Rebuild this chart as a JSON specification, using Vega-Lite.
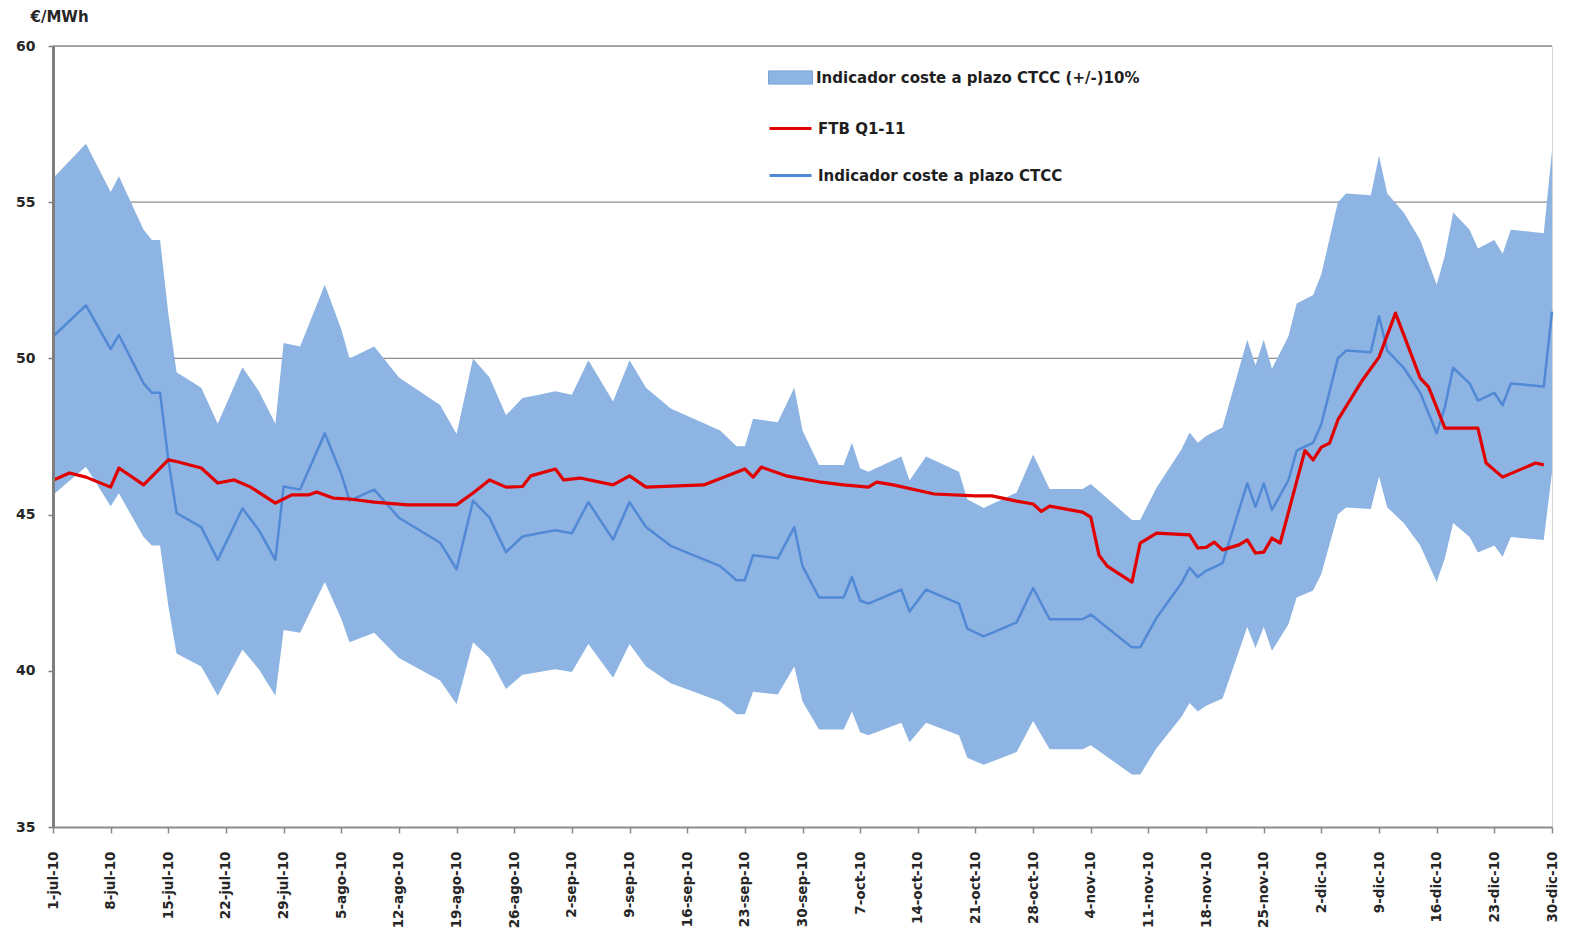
{
  "$schema": "https://vega.github.io/schema/vega-lite/v6.json",
  "width": 1499,
  "height": 781,
  "autosize": "none",
  "padding": {"left": 53, "top": 46, "right": 22, "bottom": 103},
  "background": "white",
  "config": {
    "view": {"stroke": "#d4d4d4", "strokeWidth": 1},
    "font": "DejaVu Sans",
    "axis": {"labelFont": "DejaVu Sans", "titleFont": "DejaVu Sans", "labelColor": "#262626", "titleColor": "#262626"},
    "legend": {"labelFont": "DejaVu Sans"}
  },
  "datasets": {
    "gridlines": [{"v": 50}, {"v": 55}, {"v": 60}],
    "ind": [
      {"fecha": "2010-07-01", "ind": 50.7, "lo": 45.63, "hi": 55.77},
      {"fecha": "2010-07-05", "ind": 51.7, "lo": 46.53, "hi": 56.87},
      {"fecha": "2010-07-08", "ind": 50.3, "lo": 45.27, "hi": 55.33},
      {"fecha": "2010-07-09", "ind": 50.75, "lo": 45.68, "hi": 55.83},
      {"fecha": "2010-07-12", "ind": 49.2, "lo": 44.28, "hi": 54.12},
      {"fecha": "2010-07-13", "ind": 48.9, "lo": 44.01, "hi": 53.79},
      {"fecha": "2010-07-14", "ind": 48.9, "lo": 44.01, "hi": 53.79},
      {"fecha": "2010-07-15", "ind": 46.75, "lo": 42.08, "hi": 51.43},
      {"fecha": "2010-07-16", "ind": 45.05, "lo": 40.55, "hi": 49.56},
      {"fecha": "2010-07-19", "ind": 44.6, "lo": 40.14, "hi": 49.06},
      {"fecha": "2010-07-21", "ind": 43.55, "lo": 39.2, "hi": 47.91},
      {"fecha": "2010-07-24", "ind": 45.2, "lo": 40.68, "hi": 49.72},
      {"fecha": "2010-07-26", "ind": 44.5, "lo": 40.05, "hi": 48.95},
      {"fecha": "2010-07-28", "ind": 43.55, "lo": 39.2, "hi": 47.91},
      {"fecha": "2010-07-29", "ind": 45.9, "lo": 41.31, "hi": 50.49},
      {"fecha": "2010-07-31", "ind": 45.8, "lo": 41.22, "hi": 50.38},
      {"fecha": "2010-08-03", "ind": 47.6, "lo": 42.84, "hi": 52.36},
      {"fecha": "2010-08-05", "ind": 46.3, "lo": 41.67, "hi": 50.93},
      {"fecha": "2010-08-06", "ind": 45.45, "lo": 40.91, "hi": 50.0},
      {"fecha": "2010-08-09", "ind": 45.8, "lo": 41.22, "hi": 50.38},
      {"fecha": "2010-08-12", "ind": 44.9, "lo": 40.41, "hi": 49.39},
      {"fecha": "2010-08-17", "ind": 44.1, "lo": 39.69, "hi": 48.51},
      {"fecha": "2010-08-19", "ind": 43.25, "lo": 38.93, "hi": 47.58},
      {"fecha": "2010-08-21", "ind": 45.45, "lo": 40.91, "hi": 50.0},
      {"fecha": "2010-08-23", "ind": 44.9, "lo": 40.41, "hi": 49.39},
      {"fecha": "2010-08-25", "ind": 43.8, "lo": 39.42, "hi": 48.18},
      {"fecha": "2010-08-27", "ind": 44.3, "lo": 39.87, "hi": 48.73},
      {"fecha": "2010-08-29", "ind": 44.4, "lo": 39.96, "hi": 48.84},
      {"fecha": "2010-08-31", "ind": 44.5, "lo": 40.05, "hi": 48.95},
      {"fecha": "2010-09-02", "ind": 44.4, "lo": 39.96, "hi": 48.84},
      {"fecha": "2010-09-04", "ind": 45.4, "lo": 40.86, "hi": 49.94},
      {"fecha": "2010-09-07", "ind": 44.2, "lo": 39.78, "hi": 48.62},
      {"fecha": "2010-09-09", "ind": 45.4, "lo": 40.86, "hi": 49.94},
      {"fecha": "2010-09-11", "ind": 44.6, "lo": 40.14, "hi": 49.06},
      {"fecha": "2010-09-14", "ind": 44.0, "lo": 39.6, "hi": 48.4},
      {"fecha": "2010-09-20", "ind": 43.35, "lo": 39.02, "hi": 47.69},
      {"fecha": "2010-09-22", "ind": 42.9, "lo": 38.61, "hi": 47.19},
      {"fecha": "2010-09-23", "ind": 42.9, "lo": 38.61, "hi": 47.19},
      {"fecha": "2010-09-24", "ind": 43.7, "lo": 39.33, "hi": 48.07},
      {"fecha": "2010-09-27", "ind": 43.6, "lo": 39.24, "hi": 47.96},
      {"fecha": "2010-09-29", "ind": 44.6, "lo": 40.14, "hi": 49.06},
      {"fecha": "2010-09-30", "ind": 43.35, "lo": 39.02, "hi": 47.69},
      {"fecha": "2010-10-02", "ind": 42.35, "lo": 38.12, "hi": 46.59},
      {"fecha": "2010-10-05", "ind": 42.35, "lo": 38.12, "hi": 46.59},
      {"fecha": "2010-10-06", "ind": 43.0, "lo": 38.7, "hi": 47.3},
      {"fecha": "2010-10-07", "ind": 42.25, "lo": 38.03, "hi": 46.48},
      {"fecha": "2010-10-08", "ind": 42.15, "lo": 37.94, "hi": 46.37},
      {"fecha": "2010-10-12", "ind": 42.6, "lo": 38.34, "hi": 46.86},
      {"fecha": "2010-10-13", "ind": 41.9, "lo": 37.71, "hi": 46.09},
      {"fecha": "2010-10-15", "ind": 42.6, "lo": 38.34, "hi": 46.86},
      {"fecha": "2010-10-19", "ind": 42.15, "lo": 37.94, "hi": 46.37},
      {"fecha": "2010-10-20", "ind": 41.35, "lo": 37.22, "hi": 45.49},
      {"fecha": "2010-10-22", "ind": 41.1, "lo": 36.99, "hi": 45.21},
      {"fecha": "2010-10-26", "ind": 41.55, "lo": 37.4, "hi": 45.71},
      {"fecha": "2010-10-28", "ind": 42.65, "lo": 38.39, "hi": 46.92},
      {"fecha": "2010-10-30", "ind": 41.65, "lo": 37.49, "hi": 45.82},
      {"fecha": "2010-11-03", "ind": 41.65, "lo": 37.49, "hi": 45.82},
      {"fecha": "2010-11-04", "ind": 41.8, "lo": 37.62, "hi": 45.98},
      {"fecha": "2010-11-09", "ind": 40.75, "lo": 36.68, "hi": 44.83},
      {"fecha": "2010-11-10", "ind": 40.75, "lo": 36.68, "hi": 44.83},
      {"fecha": "2010-11-12", "ind": 41.7, "lo": 37.53, "hi": 45.87},
      {"fecha": "2010-11-15", "ind": 42.8, "lo": 38.52, "hi": 47.08},
      {"fecha": "2010-11-16", "ind": 43.3, "lo": 38.97, "hi": 47.63},
      {"fecha": "2010-11-17", "ind": 43.0, "lo": 38.7, "hi": 47.3},
      {"fecha": "2010-11-18", "ind": 43.2, "lo": 38.88, "hi": 47.52},
      {"fecha": "2010-11-20", "ind": 43.45, "lo": 39.11, "hi": 47.8},
      {"fecha": "2010-11-21", "ind": 44.3, "lo": 39.87, "hi": 48.73},
      {"fecha": "2010-11-22", "ind": 45.15, "lo": 40.64, "hi": 49.67},
      {"fecha": "2010-11-23", "ind": 46.0, "lo": 41.4, "hi": 50.6},
      {"fecha": "2010-11-24", "ind": 45.25, "lo": 40.73, "hi": 49.78},
      {"fecha": "2010-11-25", "ind": 46.0, "lo": 41.4, "hi": 50.6},
      {"fecha": "2010-11-26", "ind": 45.15, "lo": 40.64, "hi": 49.67},
      {"fecha": "2010-11-28", "ind": 46.1, "lo": 41.49, "hi": 50.71},
      {"fecha": "2010-11-29", "ind": 47.05, "lo": 42.35, "hi": 51.76},
      {"fecha": "2010-12-01", "ind": 47.3, "lo": 42.57, "hi": 52.03},
      {"fecha": "2010-12-02", "ind": 47.9, "lo": 43.11, "hi": 52.69},
      {"fecha": "2010-12-04", "ind": 50.0, "lo": 45.0, "hi": 55.0},
      {"fecha": "2010-12-05", "ind": 50.25, "lo": 45.23, "hi": 55.28},
      {"fecha": "2010-12-08", "ind": 50.2, "lo": 45.18, "hi": 55.22},
      {"fecha": "2010-12-09", "ind": 51.35, "lo": 46.22, "hi": 56.49},
      {"fecha": "2010-12-10", "ind": 50.25, "lo": 45.23, "hi": 55.28},
      {"fecha": "2010-12-12", "ind": 49.7, "lo": 44.73, "hi": 54.67},
      {"fecha": "2010-12-14", "ind": 48.9, "lo": 44.01, "hi": 53.79},
      {"fecha": "2010-12-16", "ind": 47.6, "lo": 42.84, "hi": 52.36},
      {"fecha": "2010-12-17", "ind": 48.45, "lo": 43.61, "hi": 53.3},
      {"fecha": "2010-12-18", "ind": 49.7, "lo": 44.73, "hi": 54.67},
      {"fecha": "2010-12-20", "ind": 49.2, "lo": 44.28, "hi": 54.12},
      {"fecha": "2010-12-21", "ind": 48.65, "lo": 43.79, "hi": 53.52},
      {"fecha": "2010-12-23", "ind": 48.9, "lo": 44.01, "hi": 53.79},
      {"fecha": "2010-12-24", "ind": 48.5, "lo": 43.65, "hi": 53.35},
      {"fecha": "2010-12-25", "ind": 49.2, "lo": 44.28, "hi": 54.12},
      {"fecha": "2010-12-29", "ind": 49.1, "lo": 44.19, "hi": 54.01},
      {"fecha": "2010-12-30", "ind": 51.5, "lo": 46.35, "hi": 56.65}
    ],
    "ftb": [
      {"fecha": "2010-07-01", "ftb": 46.1},
      {"fecha": "2010-07-03", "ftb": 46.33},
      {"fecha": "2010-07-05", "ftb": 46.2},
      {"fecha": "2010-07-08", "ftb": 45.88},
      {"fecha": "2010-07-09", "ftb": 46.49},
      {"fecha": "2010-07-12", "ftb": 45.95},
      {"fecha": "2010-07-15", "ftb": 46.75},
      {"fecha": "2010-07-16", "ftb": 46.7},
      {"fecha": "2010-07-19", "ftb": 46.49},
      {"fecha": "2010-07-21", "ftb": 46.01},
      {"fecha": "2010-07-23", "ftb": 46.11},
      {"fecha": "2010-07-25", "ftb": 45.88},
      {"fecha": "2010-07-28", "ftb": 45.37},
      {"fecha": "2010-07-30", "ftb": 45.63},
      {"fecha": "2010-08-01", "ftb": 45.63},
      {"fecha": "2010-08-02", "ftb": 45.72},
      {"fecha": "2010-08-04", "ftb": 45.53},
      {"fecha": "2010-08-06", "ftb": 45.5},
      {"fecha": "2010-08-09", "ftb": 45.4},
      {"fecha": "2010-08-13", "ftb": 45.31},
      {"fecha": "2010-08-19", "ftb": 45.31},
      {"fecha": "2010-08-21", "ftb": 45.69},
      {"fecha": "2010-08-23", "ftb": 46.11},
      {"fecha": "2010-08-25", "ftb": 45.88},
      {"fecha": "2010-08-27", "ftb": 45.9},
      {"fecha": "2010-08-28", "ftb": 46.24},
      {"fecha": "2010-08-31", "ftb": 46.46},
      {"fecha": "2010-09-01", "ftb": 46.11},
      {"fecha": "2010-09-03", "ftb": 46.17},
      {"fecha": "2010-09-07", "ftb": 45.95},
      {"fecha": "2010-09-09", "ftb": 46.24},
      {"fecha": "2010-09-11", "ftb": 45.88},
      {"fecha": "2010-09-18", "ftb": 45.95},
      {"fecha": "2010-09-23", "ftb": 46.46},
      {"fecha": "2010-09-24", "ftb": 46.2},
      {"fecha": "2010-09-25", "ftb": 46.52},
      {"fecha": "2010-09-28", "ftb": 46.24},
      {"fecha": "2010-10-02", "ftb": 46.05},
      {"fecha": "2010-10-05", "ftb": 45.95},
      {"fecha": "2010-10-08", "ftb": 45.88},
      {"fecha": "2010-10-09", "ftb": 46.04},
      {"fecha": "2010-10-11", "ftb": 45.95},
      {"fecha": "2010-10-16", "ftb": 45.66},
      {"fecha": "2010-10-21", "ftb": 45.6},
      {"fecha": "2010-10-23", "ftb": 45.6},
      {"fecha": "2010-10-26", "ftb": 45.43},
      {"fecha": "2010-10-28", "ftb": 45.34},
      {"fecha": "2010-10-29", "ftb": 45.1},
      {"fecha": "2010-10-30", "ftb": 45.27},
      {"fecha": "2010-11-03", "ftb": 45.08},
      {"fecha": "2010-11-04", "ftb": 44.92},
      {"fecha": "2010-11-05", "ftb": 43.7},
      {"fecha": "2010-11-06", "ftb": 43.35},
      {"fecha": "2010-11-09", "ftb": 42.84},
      {"fecha": "2010-11-10", "ftb": 44.09},
      {"fecha": "2010-11-12", "ftb": 44.41},
      {"fecha": "2010-11-16", "ftb": 44.35},
      {"fecha": "2010-11-17", "ftb": 43.93},
      {"fecha": "2010-11-18", "ftb": 43.95},
      {"fecha": "2010-11-19", "ftb": 44.12},
      {"fecha": "2010-11-20", "ftb": 43.87},
      {"fecha": "2010-11-22", "ftb": 44.03},
      {"fecha": "2010-11-23", "ftb": 44.19},
      {"fecha": "2010-11-24", "ftb": 43.77},
      {"fecha": "2010-11-25", "ftb": 43.8},
      {"fecha": "2010-11-26", "ftb": 44.25},
      {"fecha": "2010-11-27", "ftb": 44.09},
      {"fecha": "2010-11-30", "ftb": 47.05},
      {"fecha": "2010-12-01", "ftb": 46.75},
      {"fecha": "2010-12-02", "ftb": 47.16},
      {"fecha": "2010-12-03", "ftb": 47.29},
      {"fecha": "2010-12-04", "ftb": 48.03},
      {"fecha": "2010-12-07", "ftb": 49.31},
      {"fecha": "2010-12-09", "ftb": 50.04},
      {"fecha": "2010-12-11", "ftb": 51.45},
      {"fecha": "2010-12-14", "ftb": 49.37},
      {"fecha": "2010-12-15", "ftb": 49.09},
      {"fecha": "2010-12-17", "ftb": 47.77},
      {"fecha": "2010-12-21", "ftb": 47.77},
      {"fecha": "2010-12-22", "ftb": 46.65},
      {"fecha": "2010-12-24", "ftb": 46.2},
      {"fecha": "2010-12-28", "ftb": 46.65},
      {"fecha": "2010-12-29", "ftb": 46.59}
    ]
  },
  "layer": [
    {
      "data": {"name": "gridlines"},
      "mark": {"type": "rule", "color": "#8c8c8c", "strokeWidth": 1.3},
      "encoding": {
        "y": {"field": "v", "type": "quantitative",
          "scale": {"domain": [35, 60], "nice": false, "zero": false},
          "axis": {
            "values": [35, 40, 45, 50, 55, 60],
            "grid": false,
            "zindex": 1,
            "domainColor": "#7f7f7f",
            "domainWidth": 3,
            "tickColor": "#7f7f7f",
            "tickSize": 5,
            "tickWidth": 1.5,
            "labelFontSize": 14,
            "labelFontWeight": "bold",
            "labelPadding": 13,
            "title": "€/MWh",
            "titleAngle": 0,
            "titleAlign": "left",
            "titleBaseline": "middle",
            "titleX": -23,
            "titleY": -30,
            "titleFontSize": 15,
            "titleFontWeight": "bold"
          }
        }
      }
    },
    {
      "data": {"name": "ind"},
      "mark": {"type": "area", "opacity": 1},
      "encoding": {
        "x": {"field": "fecha", "type": "temporal",
          "scale": {"type": "utc", "domain": [{"year": 2010, "month": 7, "date": 1, "utc": true}, {"year": 2010, "month": 12, "date": 30, "utc": true}], "nice": false},
          "axis": {
            "title": null,
            "grid": false,
            "zindex": 1,
            "values": [
              {"year": 2010, "month": 7, "date": 1, "utc": true},
              {"year": 2010, "month": 7, "date": 8, "utc": true},
              {"year": 2010, "month": 7, "date": 15, "utc": true},
              {"year": 2010, "month": 7, "date": 22, "utc": true},
              {"year": 2010, "month": 7, "date": 29, "utc": true},
              {"year": 2010, "month": 8, "date": 5, "utc": true},
              {"year": 2010, "month": 8, "date": 12, "utc": true},
              {"year": 2010, "month": 8, "date": 19, "utc": true},
              {"year": 2010, "month": 8, "date": 26, "utc": true},
              {"year": 2010, "month": 9, "date": 2, "utc": true},
              {"year": 2010, "month": 9, "date": 9, "utc": true},
              {"year": 2010, "month": 9, "date": 16, "utc": true},
              {"year": 2010, "month": 9, "date": 23, "utc": true},
              {"year": 2010, "month": 9, "date": 30, "utc": true},
              {"year": 2010, "month": 10, "date": 7, "utc": true},
              {"year": 2010, "month": 10, "date": 14, "utc": true},
              {"year": 2010, "month": 10, "date": 21, "utc": true},
              {"year": 2010, "month": 10, "date": 28, "utc": true},
              {"year": 2010, "month": 11, "date": 4, "utc": true},
              {"year": 2010, "month": 11, "date": 11, "utc": true},
              {"year": 2010, "month": 11, "date": 18, "utc": true},
              {"year": 2010, "month": 11, "date": 25, "utc": true},
              {"year": 2010, "month": 12, "date": 2, "utc": true},
              {"year": 2010, "month": 12, "date": 9, "utc": true},
              {"year": 2010, "month": 12, "date": 16, "utc": true},
              {"year": 2010, "month": 12, "date": 23, "utc": true},
              {"year": 2010, "month": 12, "date": 30, "utc": true}
            ],
            "labelExpr": "utcdate(datum.value) + '-' + ['ene','feb','mar','abr','may','jun','jul','ago','sep','oct','nov','dic'][utcmonth(datum.value)] + '-' + utcFormat(datum.value, '%y')",
            "labelAngle": -90,
            "labelFontSize": 13.5,
            "labelFontWeight": "bold",
            "labelPadding": 18,
            "labelOverlap": false,
            "labelBound": false,
            "labelFlush": false,
            "domainColor": "#8c8c8c",
            "domainWidth": 2,
            "tickColor": "#8c8c8c",
            "tickSize": 6,
            "tickWidth": 1.5
          }
        },
        "y": {"field": "hi", "type": "quantitative"},
        "y2": {"field": "lo"},
        "fill": {"datum": "Indicador coste a plazo CTCC (+/-)10%", "type": "nominal",
          "scale": {"range": ["#8db4e2"]},
          "legend": {
            "orient": "none", "legendX": 715, "legendY": 9, "title": null, "padding": 0,
            "symbolType": "M-1,-0.3H1V0.3H-1Z", "symbolSize": 1936,
            "symbolStrokeColor": "#7aa2d8", "symbolStrokeWidth": 1, "symbolOpacity": 1,
            "labelFontSize": 15, "labelFontWeight": "bold", "labelColor": "#1f1f1f", "labelOffset": 3, "labelLimit": 600
          }
        }
      }
    },
    {
      "data": {"name": "ind"},
      "mark": {"type": "line", "strokeWidth": 2.5, "strokeJoin": "round"},
      "encoding": {
        "x": {"field": "fecha", "type": "temporal"},
        "y": {"field": "ind", "type": "quantitative"},
        "stroke": {"datum": "Indicador coste a plazo CTCC", "type": "nominal"}
      }
    },
    {
      "data": {"name": "ftb"},
      "mark": {"type": "line", "strokeWidth": 3.2, "strokeJoin": "round"},
      "encoding": {
        "x": {"field": "fecha", "type": "temporal"},
        "y": {"field": "ftb", "type": "quantitative"},
        "stroke": {"datum": "FTB Q1-11", "type": "nominal",
          "scale": {"domain": ["FTB Q1-11", "Indicador coste a plazo CTCC"], "range": ["#e00000", "#5189d6"]},
          "legend": {
            "orient": "none", "legendX": 715, "legendY": 60, "title": null, "padding": 0,
            "symbolType": "stroke", "symbolSize": 1764, "symbolStrokeWidth": 3,
            "rowPadding": 16,
            "labelFontSize": 15, "labelFontWeight": "bold", "labelColor": "#1f1f1f", "labelOffset": 5, "labelLimit": 600
          }
        }
      }
    }
  ]
}
